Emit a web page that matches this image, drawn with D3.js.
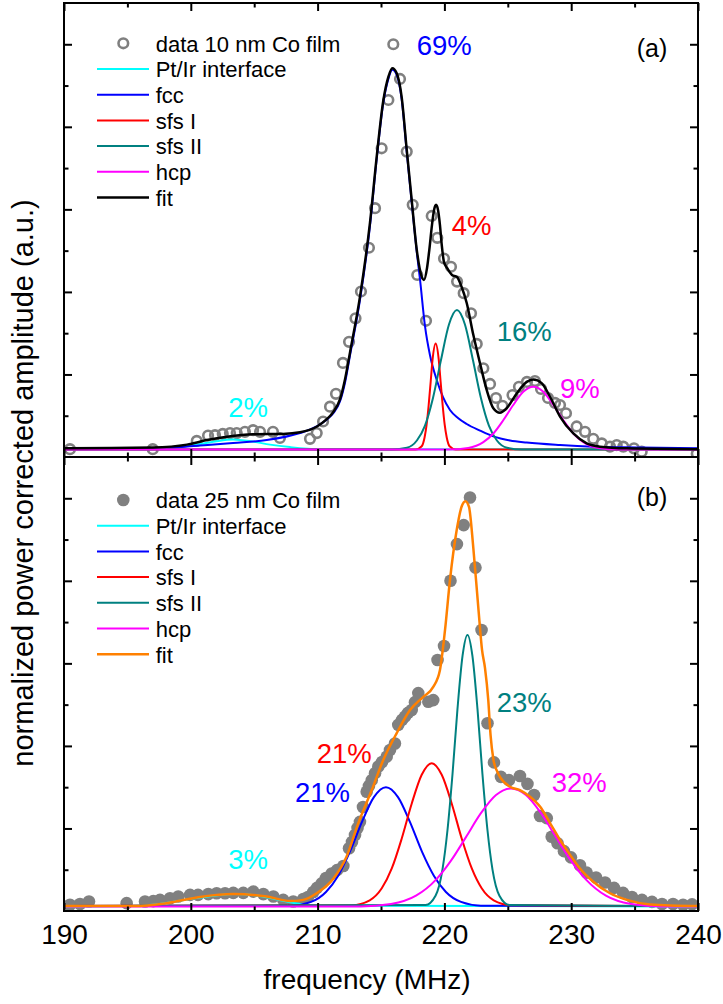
<!DOCTYPE html>
<html>
<head>
<meta charset="utf-8">
<script src="https://cdn.jsdelivr.net/npm/d3@7"></script>
<style>
body { margin: 0; background: #fff; }
svg { display: block; font-family: Arial, "Liberation Sans", sans-serif; }
.tick line { stroke: #000; stroke-width: 2; }
</style>
</head>
<body>
<svg id="chart" width="723" height="1004"></svg>
<script>
"use strict";

// axis ticks
const xTicksMajor = [190, 200, 210, 220, 230, 240];
const xTicksMinor = [195, 205, 215, 225, 235];
const yTicksMajor = [0.2, 0.4, 0.6, 0.8, 1.0];
const yTicksMinor = [0.1, 0.3, 0.5, 0.7, 0.9];

// panel (a): 10 nm Co film, [frequency MHz, amplitude]
const dataA = [[190.47,0.019],[197.0,0.019],[200.47,0.039],[201.36,0.052],[201.91,0.053],[202.52,0.056],[203.09,0.058],[203.62,0.058],[204.27,0.061],[204.91,0.065],[205.46,0.061],[206.48,0.061],[207.03,0.046],[209.4,0.044],[209.93,0.058],[210.43,0.086],[210.98,0.122],[211.45,0.153],[212.0,0.228],[212.48,0.279],[212.99,0.336],[213.42,0.401],[214.05,0.507],[214.53,0.603],[215.05,0.748],[215.58,0.865],[215.97,1.0],[216.5,0.916],[217.03,0.740],[217.5,0.611],[217.86,0.441],[218.55,0.330],[219.0,0.584],[219.44,0.531],[219.97,0.481],[220.52,0.461],[221.0,0.425],[221.52,0.397],[222.1,0.348],[222.55,0.274],[223.07,0.215],[223.6,0.177],[224.07,0.143],[224.58,0.124],[225.37,0.150],[225.88,0.170],[226.51,0.182],[227.14,0.184],[227.62,0.165],[228.17,0.143],[228.72,0.131],[229.12,0.126],[229.59,0.106],[230.43,0.074],[231.09,0.061],[231.74,0.044],[232.41,0.033],[233.06,0.025],[233.59,0.029],[234.11,0.025],[234.95,0.021],[235.56,0.013],[239.9,0.008]];
const ptirA = [[190,0.019],[196.78,0.019],[198.75,0.023],[200.33,0.029],[201.91,0.0376],[203.33,0.0424],[204.83,0.0376],[206.25,0.030],[207.82,0.024],[210.19,0.019],[240,0.019]];
const fccA = [[190,0.019],[197.02,0.020],[200.73,0.028],[203.33,0.034],[205.99,0.041],[208.61,0.058],[209.93,0.074],[210.70,0.090],[211.24,0.106],[211.77,0.135],[212.16,0.180],[212.56,0.247],[213.34,0.380],[214.13,0.560],[214.66,0.722],[215.18,0.858],[215.58,0.916],[215.89,0.938],[216.24,0.926],[216.63,0.867],[217.03,0.739],[217.42,0.618],[217.82,0.497],[218.08,0.429],[218.47,0.317],[218.86,0.247],[219.39,0.187],[219.89,0.145],[220.44,0.114],[221.07,0.0945],[221.76,0.080],[222.81,0.064],[223.86,0.050],[225.17,0.040],[226.49,0.035],[229.12,0.029],[231.74,0.025],[235.43,0.023],[240,0.021]];
const sfs1A = [[190,0.018],[217.73,0.018],[218.21,0.026],[218.44,0.048],[218.60,0.079],[218.76,0.126],[218.92,0.183],[219.07,0.237],[219.31,0.275],[219.55,0.237],[219.70,0.183],[219.86,0.126],[220.02,0.079],[220.18,0.048],[220.41,0.026],[220.89,0.018],[240,0.018]];
const sfs2A = [[190,0.018],[215.86,0.018],[217.05,0.0225],[217.83,0.040],[218.47,0.076],[219.10,0.143],[219.73,0.235],[220.36,0.321],[220.99,0.356],[221.62,0.321],[222.25,0.235],[222.88,0.143],[223.51,0.076],[224.14,0.040],[224.93,0.0225],[226.12,0.018],[240,0.018]];
const hcpA = [[190,0.018],[220.31,0.018],[221.88,0.022],[223.07,0.036],[223.86,0.057],[224.64,0.089],[225.43,0.126],[226.22,0.158],[227.01,0.170],[227.80,0.158],[228.59,0.126],[229.38,0.089],[230.17,0.057],[230.95,0.036],[232.14,0.022],[233.71,0.018],[240,0.018]];
const fitA = [[190.0,0.021],[190.47,0.021],[197.02,0.023],[199.70,0.030],[201.28,0.041],[202.85,0.049],[204.91,0.055],[207.27,0.056],[208.61,0.060],[209.95,0.074],[210.70,0.091],[211.21,0.108],[211.77,0.140],[212.16,0.188],[212.56,0.254],[213.34,0.388],[214.13,0.567],[214.66,0.727],[215.18,0.863],[215.58,0.921],[215.89,0.942],[216.24,0.930],[216.63,0.872],[217.03,0.744],[217.42,0.623],[217.82,0.502],[218.21,0.437],[218.39,0.429],[218.63,0.458],[218.81,0.502],[219.02,0.562],[219.18,0.598],[219.34,0.611],[219.50,0.598],[219.65,0.562],[219.79,0.514],[219.97,0.472],[220.21,0.458],[220.60,0.441],[220.99,0.436],[221.36,0.412],[221.76,0.373],[222.28,0.296],[222.81,0.227],[223.34,0.162],[223.86,0.118],[224.38,0.107],[224.91,0.118],[225.70,0.154],[226.49,0.182],[227.01,0.188],[227.67,0.179],[228.33,0.146],[229.12,0.098],[230.17,0.057],[231.22,0.033],[232.27,0.025],[234.38,0.021],[240.0,0.019]];

// panel (b): 25 nm Co film
const dataB = [[190.47,0.015],[191.26,0.017],[191.97,0.023],[194.94,0.019],[196.39,0.023],[197.04,0.024],[197.57,0.027],[198.36,0.031],[199.01,0.035],[199.94,0.039],[200.57,0.039],[201.38,0.041],[202.04,0.043],[202.70,0.043],[203.35,0.044],[204.14,0.044],[204.93,0.047],[205.72,0.041],[206.51,0.035],[207.29,0.027],[208.08,0.023],[208.87,0.029],[209.24,0.034],[209.66,0.046],[209.95,0.056],[210.32,0.067],[210.66,0.080],[211.11,0.091],[211.53,0.099],[212.03,0.109],[212.48,0.152],[212.71,0.167],[212.95,0.184],[213.15,0.201],[213.34,0.216],[213.58,0.252],[213.87,0.289],[214.05,0.303],[214.27,0.317],[214.53,0.334],[214.79,0.350],[215.08,0.361],[215.45,0.374],[215.71,0.390],[216.10,0.406],[216.36,0.451],[216.66,0.463],[216.89,0.471],[217.13,0.480],[217.42,0.487],[217.68,0.506],[217.94,0.528],[218.73,0.507],[219.12,0.511],[219.46,0.608],[219.97,0.642],[220.48,0.800],[220.99,0.889],[221.52,0.935],[222.02,1.002],[222.45,0.832],[222.93,0.681],[223.40,0.455],[223.91,0.360],[224.46,0.325],[225.09,0.317],[225.96,0.327],[226.55,0.308],[227.07,0.281],[227.54,0.230],[228.07,0.225],[228.46,0.180],[228.92,0.164],[229.43,0.145],[229.98,0.130],[230.69,0.111],[231.22,0.093],[231.96,0.081],[232.67,0.069],[233.38,0.056],[234.09,0.044],[234.79,0.034],[235.58,0.027],[236.37,0.022],[237.16,0.017],[238.03,0.017],[238.82,0.015],[239.53,0.016]];
const ptirB = [[190,0.011],[195.99,0.013],[197.97,0.019],[199.94,0.029],[201.51,0.036],[203.33,0.041],[205.06,0.038],[206.64,0.029],[208.22,0.019],[210.19,0.013],[240,0.011]];
const fccB = [[190,0.012],[207.90,0.013],[209.48,0.022],[210.66,0.046],[211.61,0.085],[212.55,0.144],[213.50,0.216],[214.44,0.276],[215.39,0.300],[216.34,0.276],[217.28,0.216],[218.23,0.144],[219.18,0.085],[220.12,0.046],[221.31,0.022],[222.88,0.013],[240,0.012]];
const sfs1B = [[190,0.012],[212.69,0.014],[214.11,0.026],[215.06,0.055],[215.85,0.103],[216.63,0.175],[217.42,0.260],[218.21,0.330],[219.0,0.358],[219.79,0.330],[220.58,0.260],[221.37,0.175],[222.16,0.103],[222.94,0.055],[223.89,0.026],[225.31,0.014],[240,0.012]];
const sfs2B = [[190,0.012],[218.51,0.0145],[219.30,0.037],[219.85,0.101],[220.24,0.195],[220.64,0.332],[221.03,0.489],[221.43,0.618],[221.82,0.669],[222.21,0.618],[222.61,0.489],[223.00,0.332],[223.40,0.195],[223.79,0.101],[224.34,0.037],[225.13,0.0145],[240,0.012]];
const hcpB = [[190,0.011],[213.42,0.011],[215.79,0.017],[217.76,0.037],[219.34,0.076],[220.52,0.122],[221.70,0.179],[222.88,0.237],[224.07,0.281],[225.25,0.297],[226.43,0.281],[227.62,0.237],[228.80,0.179],[229.98,0.122],[231.17,0.076],[232.74,0.037],[234.71,0.017],[237.08,0.011],[240,0.011]];
const fitB = [[190,0.012],[195.47,0.012],[198.10,0.019],[200.73,0.034],[203.35,0.041],[205.99,0.035],[207.82,0.024],[208.87,0.027],[209.93,0.043],[211.24,0.078],[212.29,0.132],[213.21,0.213],[214.27,0.293],[215.18,0.366],[216.24,0.431],[217.29,0.487],[218.34,0.519],[219.12,0.543],[219.65,0.584],[220.05,0.681],[220.44,0.802],[220.97,0.923],[221.36,0.980],[221.66,0.993],[221.94,0.979],[222.28,0.880],[222.67,0.737],[222.97,0.632],[223.20,0.589],[223.46,0.511],[223.64,0.426],[223.87,0.366],[224.15,0.339],[224.38,0.325],[225.17,0.301],[225.96,0.293],[226.75,0.277],[227.54,0.253],[228.33,0.213],[229.12,0.172],[229.91,0.136],[230.69,0.103],[231.74,0.071],[233.06,0.043],[234.38,0.027],[236.21,0.016],[240,0.012]];

// legend and fraction labels
const legendLabelsA = ["data 10 nm Co film", "Pt/Ir interface", "fcc", "sfs I", "sfs II", "hcp", "fit"];
const legendLabelsB = ["data 25 nm Co film", "Pt/Ir interface", "fcc", "sfs I", "sfs II", "hcp", "fit"];
const componentColors = ["#00ffff", "#0000ff", "#ff0000", "#008080", "#ff00ff"];
const pctTextA = ["69%", "4%", "16%", "9%", "2%"];
const pctAtA = [[217.82, 0.974], [220.58, 0.538], [224.12, 0.282], [229.12, 0.142], [202.96, 0.098]];
const pctColorA = ["#0000ff", "#ff0000", "#008080", "#ff00ff", "#00ffff"];
const pctTextB = ["3%", "21%", "21%", "23%", "32%"];
const pctAtB = [[202.96, 0.101], [209.93, 0.359], [208.22, 0.265], [224.12, 0.482], [228.46, 0.289]];
const pctColorB = ["#00ffff", "#ff0000", "#0000ff", "#008080", "#ff00ff"];

const svg = d3.select("#chart");
const left = 64, right = 698;
const x = d3.scaleLinear().domain([190, 240]).range([left, right]);
const yA = d3.scaleLinear().domain([0, 1.1]).range([457, 3]);
const yB = d3.scaleLinear().domain([0, 1.1]).range([911, 457]);

function axes(y, showLabels) {
	const top = y.range()[1], bottom = y.range()[0];
	const put = (axis, tx, ty) => svg.append("g")
		.attr("transform", `translate(${tx},${ty})`)
		.call(axis)
		.call(g => g.select(".domain").remove());

	put(d3.axisTop(x).tickValues(xTicksMajor).tickSizeInner(-8).tickSizeOuter(0).tickFormat(""), 0, top);
	put(d3.axisTop(x).tickValues(xTicksMinor).tickSizeInner(-4.5).tickSizeOuter(0).tickFormat(""), 0, top);
	const bot = put(d3.axisBottom(x).tickValues(xTicksMajor).tickSizeInner(-8).tickSizeOuter(0)
		.tickPadding(13).tickFormat(showLabels ? d3.format("d") : ""), 0, bottom);
	bot.selectAll("text").attr("font-size", 28).attr("font-family", "Arial, 'Liberation Sans', sans-serif").attr("fill", "#000");
	put(d3.axisBottom(x).tickValues(xTicksMinor).tickSizeInner(-4.5).tickSizeOuter(0).tickFormat(""), 0, bottom);

	put(d3.axisLeft(y).tickValues(yTicksMajor).tickSizeInner(-8).tickSizeOuter(0).tickFormat(""), left, 0);
	put(d3.axisLeft(y).tickValues(yTicksMinor).tickSizeInner(-4.5).tickSizeOuter(0).tickFormat(""), left, 0);
	put(d3.axisRight(y).tickValues(yTicksMajor).tickSizeInner(-8).tickSizeOuter(0).tickFormat(""), right, 0);
	put(d3.axisRight(y).tickValues(yTicksMinor).tickSizeInner(-4.5).tickSizeOuter(0).tickFormat(""), right, 0);

	svg.append("rect")
		.attr("x", left).attr("y", top)
		.attr("width", right - left).attr("height", bottom - top)
		.attr("fill", "none").attr("stroke", "#000").attr("stroke-width", 2);
}

function panel(id, y, data, filled, comps, fit, fitColor, legendLabels, legendY, tag, tagY, pctText, pctAt, pctColor) {
	const top = y.range()[1], bottom = y.range()[0];
	svg.append("clipPath").attr("id", id)
		.append("rect").attr("x", left).attr("y", top)
		.attr("width", right - left).attr("height", bottom - top);
	const g = svg.append("g").attr("clip-path", `url(#${id})`);

	const pts = g.append("g").selectAll("circle").data(data).join("circle")
		.attr("cx", d => x(d[0])).attr("cy", d => y(d[1]));
	if (filled) {
		pts.attr("r", 6.3).attr("fill", "#808080");
	} else {
		pts.attr("r", 4.8).attr("fill", "none").attr("stroke", "#808080").attr("stroke-width", 2.6);
	}

	const line = d3.line().x(d => x(d[0])).y(d => y(d[1])).curve(d3.curveMonotoneX);
	comps.forEach((c, i) => {
		g.append("path").attr("d", line(c)).attr("fill", "none")
			.attr("stroke", componentColors[i]).attr("stroke-width", 2);
	});
	g.append("path").attr("d", line(fit)).attr("fill", "none")
		.attr("stroke", fitColor).attr("stroke-width", 2.5);

	// legend
	const lg = svg.append("g").attr("font-size", 22);
	legendLabels.forEach((t, i) => {
		const ly = legendY + i * 25.7;
		if (i === 0) {
			const m = lg.append("circle").attr("cx", 123.3).attr("cy", ly);
			if (filled) m.attr("r", 6.3).attr("fill", "#808080");
			else m.attr("r", 4.8).attr("fill", "none").attr("stroke", "#808080").attr("stroke-width", 2.6);
		} else {
			lg.append("line").attr("x1", 97).attr("x2", 149).attr("y1", ly).attr("y2", ly)
				.attr("stroke", i === 6 ? fitColor : componentColors[i - 1])
				.attr("stroke-width", i === 6 ? 2.5 : 2);
		}
		lg.append("text").attr("x", 155.7).attr("y", ly).attr("dy", "0.38em").text(t);
	});

	svg.append("text").attr("x", 636.7).attr("y", tagY).attr("font-size", 25).text(tag);

	svg.append("g").selectAll("text").data(pctText).join("text")
		.attr("x", (d, i) => x(pctAt[i][0]))
		.attr("y", (d, i) => y(pctAt[i][1]))
		.attr("font-size", 27.5)
		.attr("fill", (d, i) => pctColor[i])
		.text(d => d);
}

panel("clipA", yA, dataA, false, [ptirA, fccA, sfs1A, sfs2A, hcpA], fitA, "#000000",
	legendLabelsA, 43.3, "(a)", 57, pctTextA, pctAtA, pctColorA);
panel("clipB", yB, dataB, true, [ptirB, fccB, sfs1B, sfs2B, hcpB], fitB, "#ff8000",
	legendLabelsB, 500, "(b)", 505.5, pctTextB, pctAtB, pctColorB);

axes(yA, false);
axes(yB, true);

svg.append("text")
	.attr("transform", "translate(33,483) rotate(-90)")
	.attr("text-anchor", "middle")
	.attr("font-size", 29)
	.text("normalized power corrected amplitude (a.u.)");

svg.append("text")
	.attr("x", 367).attr("y", 989)
	.attr("text-anchor", "middle")
	.attr("font-size", 28)
	.text("frequency (MHz)");
</script>
</body>
</html>
